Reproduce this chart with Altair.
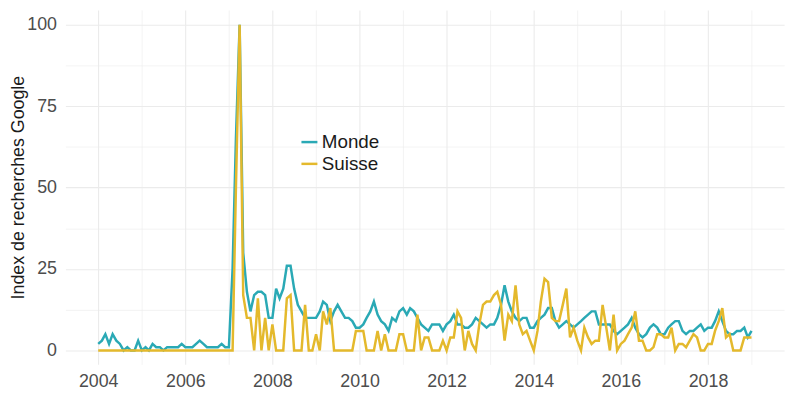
import altair as alt
import pandas as pd

months = pd.date_range("2004-01-01", periods=181, freq="MS").strftime("%Y-%m-%d").tolist()

monde = [
    2, 3, 5, 2, 5, 3, 2, 0, 1, 0, 0, 3,          # 2004
    0, 1, 0, 2, 1, 1, 0, 1, 1, 1, 1, 2,          # 2005
    1, 1, 1, 2, 3, 2, 1, 1, 1, 1, 2, 1,          # 2006
    1, 25, 65, 100, 30, 18, 12, 17, 18, 18, 17, 10,  # 2007
    10, 19, 16, 19, 26, 26, 19, 14, 12, 10, 10, 10,  # 2008
    10, 12, 15, 14, 9, 12, 14, 12, 10, 10, 9, 7,     # 2009
    7, 8, 10, 12, 15, 11, 9, 8, 6, 10, 9, 12,        # 2010
    13, 11, 13, 12, 10, 8, 7, 6, 8, 8, 8, 6,         # 2011
    8, 9, 11, 8, 8, 7, 7, 8, 10, 9, 8, 7,            # 2012
    8, 8, 10, 14, 20, 15, 12, 10, 9, 10, 10, 7,      # 2013
    7, 9, 10, 11, 13, 13, 9, 7, 8, 9, 8, 7,          # 2014
    8, 9, 10, 11, 12, 12, 8, 8, 8, 8, 6, 5,          # 2015
    6, 7, 8, 10, 7, 5, 4, 5, 7, 8, 7, 5,             # 2016
    5, 7, 8, 9, 9, 6, 5, 6, 6, 7, 8, 6,              # 2017
    7, 7, 9, 12, 9, 6, 5, 5, 6, 6, 7, 4,             # 2018
    6,                                               # 2019
]

suisse = [
    0, 0, 0, 0, 0, 0, 0, 0, 0, 0, 0, 0,          # 2004
    0, 0, 0, 0, 0, 0, 0, 0, 0, 0, 0, 0,          # 2005
    0, 0, 0, 0, 0, 0, 0, 0, 0, 0, 0, 0,          # 2006
    0, 0, 50, 100, 17, 10, 10, 0, 16, 0, 10, 0,  # 2007
    8, 0, 0, 0, 16, 17, 0, 0, 0, 14, 0, 0,       # 2008
    5, 0, 12, 8, 13, 0, 0, 0, 0, 0, 0, 6,        # 2009
    6, 6, 0, 0, 0, 6, 0, 5, 0, 0, 0, 5,          # 2010
    5, 0, 0, 0, 11, 0, 4, 4, 0, 0, 0, 3,         # 2011
    0, 4, 4, 12, 10, 0, 6, 2, 0, 8, 14, 15,      # 2012
    15, 17, 18, 14, 3, 11, 9, 20, 8, 5, 6, 3,    # 2013
    0, 6, 15, 22, 21, 10, 9, 9, 14, 19, 4, 7,    # 2014
    3, 0, 7, 4, 2, 3, 3, 14, 7, 0, 11, 0,        # 2015
    2, 3, 5, 7, 12, 3, 3, 0, 0, 1, 5, 5,         # 2016
    4, 4, 7, 0, 2, 2, 1, 3, 5, 4, 0, 0,          # 2017
    2, 2, 6, 9, 13, 4, 5, 0, 0, 0, 4, 4,         # 2018
    4,                                           # 2019
]

series_names = ["Monde", "Suisse"]
series_colors = ["#2aa9b5", "#e4b92c"]
y_ticks = [0, 12.5, 25, 37.5, 50, 62.5, 75, 87.5, 100]
x_years = list(range(2004, 2020))

df = pd.DataFrame({
    "date": months + months,
    "value": monde + suisse,
    "serie": [series_names[0]] * len(months) + [series_names[1]] * len(months),
})

FONT = "Liberation Sans"

x_enc = alt.X(
    "date:T",
    scale=alt.Scale(domain=[alt.DateTime(year=2003, month=4, date=1),
                            alt.DateTime(year=2019, month=10, date=1)]),
    axis=alt.Axis(
        values=[alt.DateTime(year=y, month=1, date=1) for y in x_years],
        labelExpr="year(datum.value) % 2 == 0 ? timeFormat(datum.value, '%Y') : ''",
        gridWidth=alt.condition("year(datum.value) % 2 == 0", alt.value(1.1), alt.value(0.6)),
        labelPadding=8,
    ),
    title=None,
)
y_enc = alt.Y(
    "value:Q",
    scale=alt.Scale(domain=[-4.26, 104.56], nice=False, zero=False),
    axis=alt.Axis(
        values=y_ticks,
        labelExpr="datum.value % 25 == 0 ? format(datum.value, 'd') : ''",
        gridWidth=alt.condition("datum.value % 25 == 0", alt.value(1.1), alt.value(0.6)),
        labelPadding=9,
        titleAngle=-90,
        titleX=-42,
        titleY=179,
        titleAlign="center",
        titleBaseline="alphabetic",
    ),
    title="Index de recherches Google",
)
color_enc = alt.Color(
    "serie:N",
    scale=alt.Scale(domain=series_names, range=series_colors),
    legend=alt.Legend(
        orient="none", legendX=237, legendY=124, title=None,
        symbolType="stroke", symbolStrokeWidth=2.5, symbolSize=260,
        labelFontSize=19, labelFont=FONT, labelColor="#1a1a1a",
        rowPadding=2, labelOffset=3, padding=0,
    ),
)

base = alt.Chart(df).mark_line(strokeWidth=2.5).encode(x=x_enc, y=y_enc, color=color_enc)
monde_line = base.transform_filter(alt.datum.serie == "Monde")
suisse_line = base.transform_filter(alt.datum.serie == "Suisse")

chart = alt.layer(monde_line, suisse_line).properties(
    width=726, height=358,
    autosize=alt.AutoSizeParams(type="none"),
    padding={"left": 58, "top": 0, "right": 8, "bottom": 25},
).configure_view(stroke=None).configure_axis(
    domain=False, ticks=False, tickSize=0,
    gridColor="#ebebeb",
    labelFont=FONT, labelFontSize=18, labelColor="#4d4d4d",
    titleFont=FONT, titleFontSize=18, titleColor="#1a1a1a", titleFontWeight="normal",
)

chart.save("out.html", embed_options={"renderer": "svg", "actions": False})
